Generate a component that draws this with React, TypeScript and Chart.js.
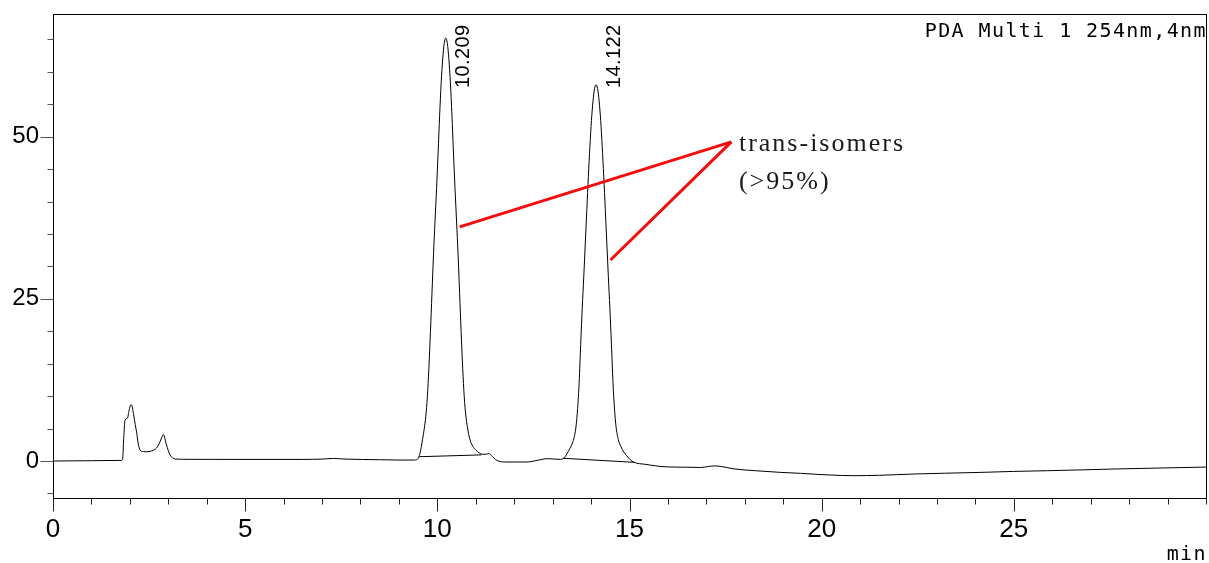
import { useEffect, useRef } from "react";
import { Chart, registerables } from "chart.js";

Chart.register(...registerables);

// Chromatogram trace (retention time in min, signal in mAU)
const times = [
  0, 1.0, 1.78, 1.81, 1.84, 1.875, 1.936, 1.98, 2.031, 2.06, 2.092, 2.14, 2.18, 2.22, 2.266, 2.35, 2.44,
  2.56, 2.656, 2.73, 2.786, 2.84, 2.873, 2.91, 2.943, 3.0, 3.047, 3.11, 3.177, 3.57, 5.0, 6.5, 7.0, 7.3,
  7.6, 8.5, 9.0, 9.4, 9.46,
  9.5, 9.54, 9.58, 9.62, 9.66, 9.7, 9.74, 9.78, 9.82, 9.86, 9.9, 9.94, 9.98, 10.02, 10.06, 10.1, 10.14, 10.18,
  10.22,
  10.26, 10.3, 10.34, 10.38, 10.42, 10.46, 10.5, 10.54, 10.58, 10.62, 10.66, 10.7, 10.74, 10.78, 10.82, 10.86,
  10.92, 11.0, 11.08, 11.18, 11.28, 11.34, 11.4, 11.47, 11.55, 11.65, 11.75, 12.33, 12.6, 12.86, 13.05, 13.2,
  13.27,
  13.33, 13.41, 13.48, 13.53, 13.57, 13.61, 13.65, 13.69, 13.73, 13.77, 13.81, 13.85, 13.89, 13.93, 13.97,
  14.01, 14.05, 14.09, 14.13,
  14.17, 14.21, 14.25, 14.29, 14.33, 14.37, 14.41, 14.45, 14.49, 14.53, 14.57, 14.61, 14.65, 14.69, 14.73,
  14.78, 14.85, 14.93, 15.02, 15.12,
  15.4, 15.96, 16.5, 16.85, 17.05, 17.2, 17.4, 17.7, 18.3, 18.93, 19.45, 20.23, 20.84, 21.5, 22.4, 23.2,
  24.14, 25.0, 25.88, 26.8, 27.61, 28.8, 30.0,
];
const signal = [
  0, 0.05, 0.1, 0.2, 3.5, 6.3, 6.6, 7.8, 8.7, 8.4, 7.35, 5.6, 4.27, 2.6, 1.7, 1.45, 1.43,
  1.55, 1.8, 2.3, 2.98, 3.8, 4.1, 3.5, 2.7, 1.6, 0.92, 0.5, 0.31, 0.26, 0.25, 0.25, 0.3, 0.4,
  0.3, 0.2, 0.15, 0.15, 0.2,
  0.4, 1.0, 2.1, 3.5, 5.0, 6.9, 9.9, 14.3, 19.8, 25.8, 31.8, 37.0, 42.0, 47.5, 53.3, 58.3, 62.0, 64.4,
  65.2,
  64.4, 62.0, 58.3, 53.3, 47.5, 42.0, 37.0, 31.8, 25.8, 19.8, 14.3, 9.9, 7.1, 5.3, 4.0, 3.1,
  2.3, 1.7, 1.3, 1.05, 1.05, 1.15, 0.9, 0.45, 0.1, -0.1, -0.15, -0.15, 0.1, 0.36, 0.3, 0.25,
  0.35,
  0.7, 1.5, 2.3, 3.0, 3.9, 5.4, 8.1, 12.1, 18.0, 23.5, 28.4, 33.6, 38.8, 43.9, 48.5,
  52.5, 55.5, 57.4, 58.0,
  57.4, 55.5, 52.5, 48.5, 43.9, 38.8, 33.6, 28.4, 23.5, 18.0, 12.1, 8.0, 5.3, 3.8, 2.9,
  2.2, 1.4, 0.8, 0.2, -0.2,
  -0.5, -0.9, -0.95, -1.0, -0.85, -0.75, -0.85, -1.2, -1.5, -1.75, -1.9, -2.16, -2.26, -2.2, -2.0, -1.88,
  -1.75, -1.6, -1.49, -1.36, -1.23, -1.08, -0.93,
];

// Integration baselines drawn under the two peaks (null = gap)
const baselineTimes = [9.52, 11.15, 12.2, 13.28, 15.12];
const baselineValues = [0.66, 0.95, null, 0.42, -0.2];

// Peak retention-time labels
const peakTimes = [10.209, 14.122];
const peakLabels = ["10.209", "14.122"];

// Axis ticks
const xTickLabels = [0, 5, 10, 15, 20, 25];
const xMinorTicks = [
  0, 1, 2, 3, 4, 5, 6, 7, 8, 9, 10, 11, 12, 13, 14, 15, 16, 17, 18, 19, 20, 21, 22, 23, 24, 25, 26, 27,
  28, 29, 30,
];
const yTickLabels = [0, 25, 50];
const yMinorTicks = [-5, 0, 5, 10, 15, 20, 25, 30, 35, 40, 45, 50, 55, 60, 65];

// Annotation
const annotationText = ["trans-isomers", "(>95%)"];
const annotationAnchor = [17.65, 49.2];
const annotationTargets = [
  [10.58, 36.1],
  [14.505, 31.0],
];
const detectorLabel = "PDA Multi 1 254nm,4nm";
const xUnit = "min";

const X_MIN = 0;
const X_MAX = 30;
const Y_MIN = -5.7;
const Y_MAX = 68.92;

const overlayPlugin = {
  id: "overlay",
  afterDatasetsDraw(chart: any) {
    const { ctx, chartArea } = chart;
    const xs = chart.scales.x;
    const ys = chart.scales.y;
    const { left, right, top, bottom } = chartArea;
    ctx.save();

    // frame
    ctx.strokeStyle = "#000";
    ctx.lineWidth = 1;
    ctx.strokeRect(Math.round(left) + 0.5, Math.round(top) + 0.5, Math.round(right - left), Math.round(bottom - top));

    // x ticks
    ctx.strokeStyle = "#222";
    ctx.beginPath();
    xMinorTicks.forEach((v) => {
      const px = Math.round(xs.getPixelForValue(v)) + 0.5;
      const len = xTickLabels.includes(v) ? 13 : 6;
      ctx.moveTo(px, Math.round(bottom) + 0.5);
      ctx.lineTo(px, Math.round(bottom) + 0.5 + len);
    });
    ctx.stroke();

    // y ticks
    ctx.strokeStyle = "#555";
    ctx.beginPath();
    yMinorTicks.forEach((v) => {
      const py = Math.round(ys.getPixelForValue(v)) + 0.5;
      const len = yTickLabels.includes(v) ? 13 : 6;
      ctx.moveTo(Math.round(left) + 0.5, py);
      ctx.lineTo(Math.round(left) + 0.5 - len, py);
    });
    ctx.stroke();

    // detector label
    ctx.fillStyle = "#000";
    ctx.font = '20px "DejaVu Sans Mono"';
    (ctx as any).letterSpacing = "1.4px";
    ctx.textAlign = "right";
    ctx.textBaseline = "alphabetic";
    ctx.fillText(detectorLabel, right + 1, top + 23);
    // unit label
    ctx.fillText(xUnit, right + 1, 560);
    (ctx as any).letterSpacing = "0px";

    // peak labels (rotated)
    ctx.font = '20px "Liberation Sans", Arial, sans-serif';
    (ctx as any).letterSpacing = "0.4px";
    ctx.textAlign = "left";
    peakTimes.forEach((t, i) => {
      const px = xs.getPixelForValue(t) + 24;
      ctx.save();
      ctx.translate(px, top + 74);
      ctx.rotate(-Math.PI / 2);
      ctx.fillText(peakLabels[i], 0, 0);
      ctx.restore();
    });
    (ctx as any).letterSpacing = "0px";

    // annotation lines
    const ax = xs.getPixelForValue(annotationAnchor[0]);
    const ay = ys.getPixelForValue(annotationAnchor[1]);
    ctx.strokeStyle = "#f20c0c";
    ctx.lineWidth = 3;
    ctx.lineCap = "butt";
    annotationTargets.forEach(([t, v]) => {
      ctx.beginPath();
      ctx.moveTo(xs.getPixelForValue(t), ys.getPixelForValue(v));
      ctx.lineTo(ax, ay);
      ctx.stroke();
    });

    // annotation text
    ctx.fillStyle = "#1a1a1a";
    ctx.font = '26px "Liberation Serif", "Times New Roman", serif';
    (ctx as any).letterSpacing = "2px";
    ctx.textAlign = "left";
    ctx.fillText(annotationText[0], ax + 7.6, ay + 9);
    ctx.fillText(annotationText[1], ax + 7.6, ay + 46.6);
    (ctx as any).letterSpacing = "0px";

    ctx.restore();
  },
};

export default function App() {
  const canvasRef = useRef<HTMLCanvasElement | null>(null);

  useEffect(() => {
    if (!canvasRef.current) return;
    const trace = times.map((t, i) => ({ x: t, y: signal[i] }));
    const base = baselineTimes.map((t, i) => ({ x: t, y: baselineValues[i] }));
    const chart = new Chart(canvasRef.current, {
      type: "line",
      data: {
        datasets: [
          {
            label: "PDA 254nm",
            data: trace,
            borderColor: "#000",
            borderWidth: 1,
            pointRadius: 0,
            cubicInterpolationMode: "monotone",
            fill: false,
          },
          {
            label: "baseline",
            data: base as any,
            borderColor: "#000",
            borderWidth: 1,
            pointRadius: 0,
            tension: 0,
            spanGaps: false,
            fill: false,
          },
        ],
      },
      options: {
        responsive: false,
        maintainAspectRatio: false,
        animation: false,
        layout: { padding: { top: 14, right: 3, left: 0, bottom: 0 } },
        plugins: {
          legend: { display: false },
          title: { display: false },
          tooltip: { enabled: false },
        },
        scales: {
          x: {
            type: "linear",
            min: X_MIN,
            max: X_MAX,
            afterFit: (s: any) => {
              s.height = 65;
              s.paddingLeft = 0;
              s.paddingRight = 0;
            },
            afterBuildTicks: (s: any) => {
              s.ticks = xTickLabels.map((v) => ({ value: v }));
            },
            grid: { display: false, drawTicks: false },
            border: { display: false },
            ticks: {
              padding: 16,
              color: "#000",
              maxRotation: 0,
              autoSkip: false,
              font: { family: '"Liberation Sans", Arial, sans-serif', size: 26 },
              callback: (v: any) => String(v),
            },
          },
          y: {
            type: "linear",
            min: Y_MIN,
            max: Y_MAX,
            afterFit: (s: any) => {
              s.width = 53;
              s.paddingTop = 0;
              s.paddingBottom = 0;
            },
            afterBuildTicks: (s: any) => {
              s.ticks = yTickLabels.map((v) => ({ value: v }));
            },
            grid: { display: false, drawTicks: false },
            border: { display: false },
            ticks: {
              padding: 14,
              color: "#000",
              autoSkip: false,
              font: { family: '"Liberation Sans", Arial, sans-serif', size: 24 },
              callback: (v: any) => String(v),
            },
          },
        },
      },
      plugins: [overlayPlugin],
    });
    return () => chart.destroy();
  }, []);

  return (
    <div style={{ position: "fixed", left: 0, top: 0, width: 1209, height: 563, background: "#fff" }}>
      <canvas ref={canvasRef} width={1209} height={563} style={{ width: 1209, height: 563 }} />
    </div>
  );
}
